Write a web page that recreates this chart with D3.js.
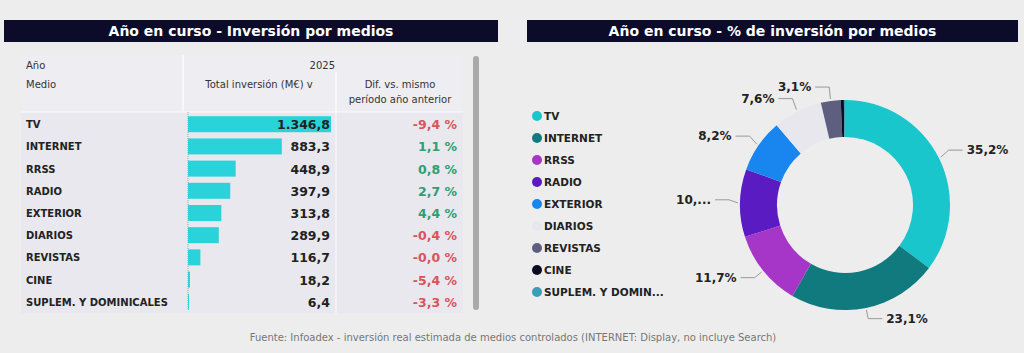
<!DOCTYPE html>
<html>
<head>
<meta charset="utf-8">
<script src="https://cdn.jsdelivr.net/npm/d3@7"></script>
<style>
  body { margin: 0; background: #ededed; }
  svg { display: block; font-family: "DejaVu Sans", Verdana, sans-serif; }
</style>
</head>
<body>
<script>
// data
var medios = ["TV", "INTERNET", "RRSS", "RADIO", "EXTERIOR", "DIARIOS", "REVISTAS", "CINE", "SUPLEM. Y DOMINICALES"];
var inversion = [1346.8, 883.3, 448.9, 397.9, 313.8, 289.9, 116.7, 18.2, 6.4];
var difAnterior = [-9.4, 1.1, 0.8, 2.7, 4.4, -0.4, -0.0, -5.4, -3.3];
var difNegativa = [true, false, false, false, false, true, true, true, true];
var colores = ["#19c6cc", "#117a7e", "#a636c8", "#5a1bc2", "#1985ef", "#e7e7ed", "#5e5f7f", "#0b0c22", "#3a9fb6"];
var legendNames = ["TV", "INTERNET", "RRSS", "RADIO", "EXTERIOR", "DIARIOS", "REVISTAS", "CINE", "SUPLEM. Y DOMIN..."];
var pieLabels = ["35,2%", "23,1%", "11,7%", "10,...", "8,2%", "7,6%", "3,1%", "", ""];

var W = 1024, H = 353;
var svg = d3.select("body").append("svg")
    .attr("width", W)
    .attr("height", H);

var fmtNum = d3.formatLocale({decimal: ",", thousands: ".", grouping: [3], currency: ["", "€"]}).format(",.1f");
function fmtPct(v, neg) { return (neg ? "-" : "") + d3.format(".1f")(Math.abs(v)).replace(".", ",") + " %"; }

// ---- title bars
function titleBar(x, w, text) {
  svg.append("rect").attr("x", x).attr("y", 20).attr("width", w).attr("height", 22).attr("fill", "#0c0b2a");
  svg.append("text").attr("x", x + w / 2).attr("y", 36).attr("text-anchor", "middle")
    .attr("fill", "#fff").attr("font-weight", "bold").attr("font-size", 14).text(text);
}
titleBar(4, 494, "Año en curso - Inversión por medios");
titleBar(527, 491, "Año en curso - % de inversión por medios");

// ---- table
var tbl = {left: 21, right: 463, top: 55, head: 112, bottom: 313, c1: 183, c2: 336};
svg.append("rect").attr("x", tbl.left).attr("y", tbl.top).attr("width", tbl.right - tbl.left)
  .attr("height", tbl.bottom - tbl.top).attr("fill", "#e8e8ee");
svg.append("rect").attr("x", tbl.left).attr("y", tbl.top).attr("width", tbl.right - tbl.left)
  .attr("height", tbl.head - tbl.top).attr("fill", "#eeeef2");
[tbl.c1, tbl.c2].forEach(function(cx, i) {
  svg.append("line").attr("x1", cx).attr("x2", cx).attr("y1", i === 0 ? tbl.top : 72).attr("y2", tbl.head)
    .attr("stroke", "#fafafa").attr("stroke-width", 1.5);
});
svg.append("line").attr("x1", tbl.c2).attr("x2", tbl.c2).attr("y1", tbl.head).attr("y2", tbl.bottom)
  .attr("stroke", "#f6f6f8").attr("stroke-width", 1.5);
svg.append("line").attr("x1", tbl.left).attr("x2", tbl.right).attr("y1", tbl.head).attr("y2", tbl.head)
  .attr("stroke", "#f6f6f8").attr("stroke-width", 1.5);

// scrollbar
svg.append("rect").attr("x", 473).attr("y", 56).attr("width", 6).attr("height", 254).attr("rx", 3)
  .attr("fill", "#aaaaaa");

var head = svg.append("g").attr("font-size", 10).attr("fill", "#333");
head.append("text").attr("x", 26).attr("y", 69).text("Año");
head.append("text").attr("x", 26).attr("y", 88).text("Medio");
head.append("text").attr("x", 335).attr("y", 69).attr("text-anchor", "end").text("2025");
head.append("text").attr("x", 259).attr("y", 88).attr("text-anchor", "middle").text("Total inversión (M€) v");
head.append("text").attr("x", 400).attr("y", 88).attr("text-anchor", "middle").text("Dif. vs. mismo");
head.append("text").attr("x", 400).attr("y", 103).attr("text-anchor", "middle").text("período año anterior");

var y = d3.scaleBand().domain(medios).range([tbl.head + 2, tbl.bottom - 1]).paddingInner(0.28).paddingOuter(0.1);
var x = d3.scaleLinear().domain([0, d3.max(inversion)]).range([188, 331]);

svg.append("line").attr("x1", x(0)).attr("x2", x(0)).attr("y1", tbl.head).attr("y2", tbl.bottom - 4)
  .attr("stroke", "#9aa").attr("stroke-dasharray", "1,1");

var rows = svg.append("g").selectAll("g").data(medios).enter().append("g")
  .attr("transform", function(d) { return "translate(0," + y(d) + ")"; });

rows.append("rect")
  .attr("x", x(0))
  .attr("width", function(d, i) { return Math.max(1, x(inversion[i]) - x(0)); })
  .attr("height", y.bandwidth())
  .attr("fill", "#2ad3d9");

rows.append("text").attr("x", 26).attr("y", y.bandwidth() / 2 + 4)
  .attr("font-size", 10).attr("font-weight", "bold").attr("fill", "#222")
  .text(function(d) { return d; });

rows.append("text").attr("x", 330).attr("y", y.bandwidth() / 2 + 5)
  .attr("text-anchor", "end").attr("font-size", 12.5).attr("font-weight", "bold").attr("fill", "#222")
  .text(function(d, i) { return fmtNum(inversion[i]); });

rows.append("text").attr("x", 457).attr("y", y.bandwidth() / 2 + 5)
  .attr("text-anchor", "end").attr("font-size", 12.5).attr("font-weight", "bold")
  .attr("fill", function(d, i) { return difNegativa[i] ? "#d9545b" : "#2f9e72"; })
  .text(function(d, i) { return fmtPct(difAnterior[i], difNegativa[i]); });

// ---- legend
var leg = svg.append("g").selectAll("g").data(legendNames).enter().append("g")
  .attr("transform", function(d, i) { return "translate(537," + (116 + i * 22) + ")"; });
leg.append("circle").attr("r", 5).attr("fill", function(d, i) { return colores[i]; });
leg.append("text").attr("x", 7).attr("y", 4).attr("font-size", 10.5).attr("font-weight", "bold")
  .attr("fill", "#222").text(function(d) { return d; });

// ---- donut
var cx = 845, cy = 205, R = 105, r0 = 68;
var pie = d3.pie().sort(null).value(function(d) { return d; });
var arcs = pie(inversion);
var arc = d3.arc().innerRadius(r0).outerRadius(R);
var g = svg.append("g").attr("transform", "translate(" + cx + "," + cy + ")");
g.selectAll("path").data(arcs).enter().append("path")
  .attr("d", arc)
  .attr("fill", function(d, i) { return colores[i]; });

// labels with elbow leader lines
var labs = g.append("g");
arcs.forEach(function(a, i) {
  if (!pieLabels[i]) return;
  var m = (a.startAngle + a.endAngle) / 2;
  var sx = Math.sin(m), sy = -Math.cos(m);
  var p0 = [sx * (R + 2), sy * (R + 2)];
  var p1 = [sx * (R + 11), sy * (R + 11) - (sy < 0.2 ? 3 : 0)];
  var right = sx > 0;
  var p2 = [p1[0] + (right ? 14 : -14), p1[1]];
  labs.append("polyline")
    .attr("points", [p0, p1, p2].map(function(p) { return p.join(","); }).join(" "))
    .attr("fill", "none").attr("stroke", "#999").attr("stroke-width", 1);
  labs.append("text")
    .attr("x", p2[0] + (right ? 4 : -4)).attr("y", p2[1] + 4)
    .attr("text-anchor", right ? "start" : "end")
    .attr("font-size", 12).attr("font-weight", "bold").attr("fill", "#222")
    .text(pieLabels[i]);
});

// ---- footer
svg.append("text").attr("x", 513).attr("y", 341).attr("text-anchor", "middle")
  .attr("font-size", 10).attr("fill", "#777")
  .text("Fuente: Infoadex - inversión real estimada de medios controlados (INTERNET: Display, no incluye Search)");
</script>
</body>
</html>
